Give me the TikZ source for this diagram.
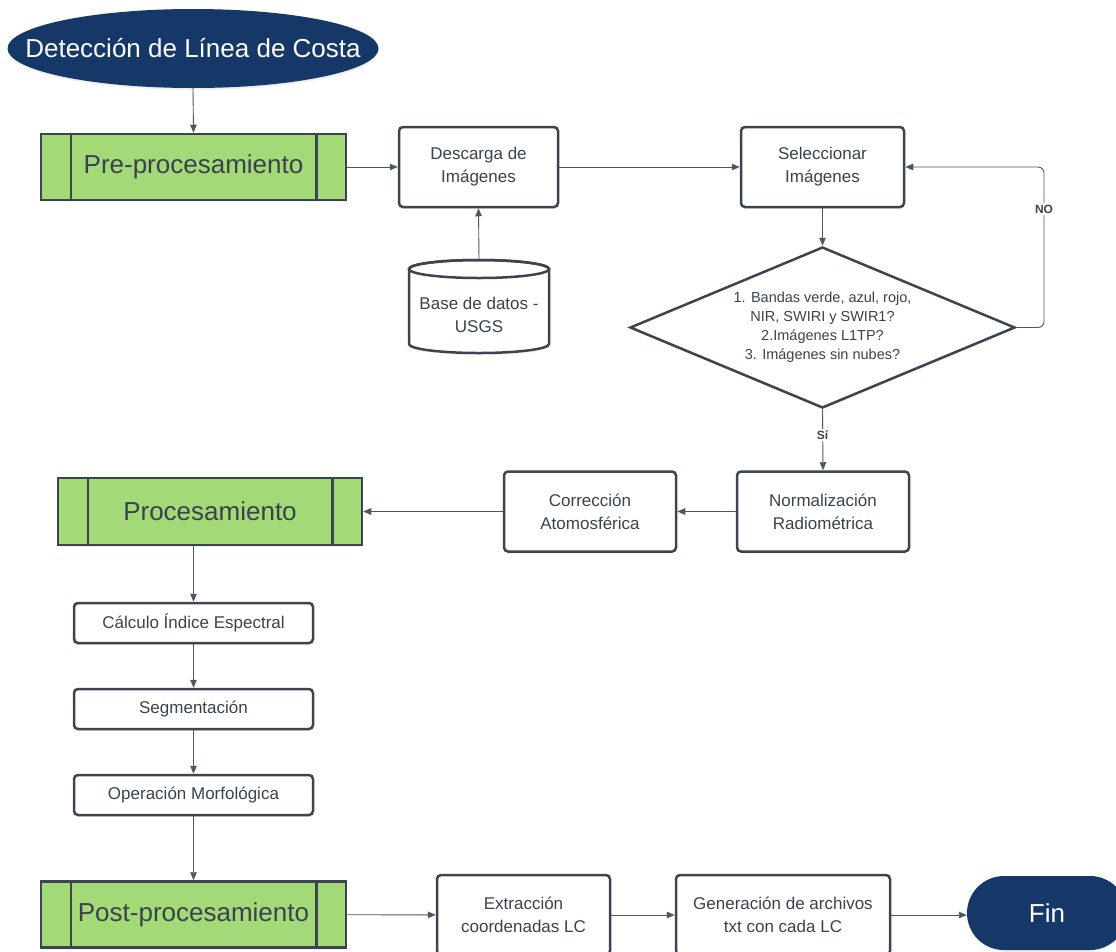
\documentclass[tikz,border=0pt]{standalone}
\usepackage{fontspec}
\setmainfont{Liberation Sans}
\usetikzlibrary{arrows.meta,shapes.geometric,calc,shadows}
\definecolor{navy}{HTML}{163868}
\definecolor{grn}{HTML}{A3D977}
\definecolor{bord}{HTML}{3B4450}
\definecolor{txt}{HTML}{3A4250}
\definecolor{lin}{HTML}{50565E}
\begin{document}
\begin{tikzpicture}[x=1pt,y=-1pt,
  conn/.style={draw=lin, line width=0.9pt, -{Triangle[length=8pt,width=6.5pt]}},
  shad/.style={drop shadow={opacity=0.12, shadow xshift=0.5pt, shadow yshift=-2pt}},
  term/.style={fill=navy, text=white, font=\fontsize{26}{30}\selectfont, inner sep=0pt},
  phase/.style={draw=bord, line width=2.5pt, fill=grn, text=txt, font=\fontsize{26}{30}\selectfont,
    minimum width=305pt, minimum height=66pt, inner sep=0pt, shad},
  box/.style={draw=bord, line width=2.5pt, rounded corners=4pt, fill=white, text=txt,
    font=\fontsize{17}{23}\selectfont, align=center, inner sep=0pt, minimum height=80pt, shad},
  sbox/.style={box, minimum width=239pt, minimum height=40pt},
  dia/.style={draw=bord, line width=2.5pt, fill=white, diamond, aspect=2.39, text=txt,
    font=\fontsize{14.5}{19}\selectfont, align=center, inner sep=0pt,
    minimum width=385pt, minimum height=161pt, shad},
  lab/.style={fill=white, text=txt, font=\bfseries\fontsize{12}{14}\selectfont, inner sep=2pt}
]
\useasboundingbox (0,0) rectangle (1116,951);
\fill[white] (0,0) rectangle (1116,951);

% start terminal (ellipse drawn separately so the text does not widen it)
\fill[navy, shad] (193,48.5) ellipse[x radius=185.5pt, y radius=39.5pt];
\node[text=white, font=\fontsize{26}{30}\selectfont, inner sep=0pt,
  minimum width=371pt, minimum height=79pt] (start) at (193,48.5) {Detección de Línea de Costa};

\node[phase] (pre) at (193.5,167) {Pre-procesamiento};
\node[box, minimum width=159pt] (desc) at (478.5,167) {Descarga de\\Imágenes};
\node[box, minimum width=163pt] (sel) at (822.5,167) {Seleccionar\\Imágenes};

% database cylinder
\draw[draw=bord, line width=2.5pt, fill=white, shad] (409,269) -- (409,344)
  arc[start angle=180, end angle=360, x radius=70pt, y radius=9pt] -- (549,269)
  arc[start angle=0, end angle=180, x radius=70pt, y radius=9pt] -- cycle;
\draw[draw=bord, line width=2.5pt] (479,269) ellipse[x radius=70pt, y radius=9pt];
\node[minimum width=140pt, minimum height=93pt, inner sep=0pt] (db) at (479,306.5) {};
\node[text=txt, font=\fontsize{17}{23}\selectfont, align=center] (dbl) at (479,315) {Base de datos -\\USGS};

\node[dia] (dec) at (822.5,327.5) {1. Bandas verde, azul, rojo,\\NIR, SWIRI y SWIR1?\\2.Imágenes L1TP?\\3. Imágenes sin nubes?};
\node[box, minimum width=172pt] (norm) at (823,511.5) {Normalización\\Radiométrica};
\node[box, minimum width=172pt] (corr) at (590,511.5) {Corrección\\Atomosférica};
\node[phase, minimum width=304pt, minimum height=67pt] (proc) at (210,511.5) {Procesamiento};
\node[sbox] (calc) at (193.5,623) {Cálculo Índice Espectral};
\node[sbox] (seg) at (193.5,709) {Segmentación};
\node[sbox] (morf) at (193.5,795) {Operación Morfológica};
\node[phase] (post) at (193.5,914.5) {Post-procesamiento};
\node[box, minimum width=173pt] (ext) at (523.5,915) {Extracción\\coordenadas LC};
\node[box, minimum width=214pt] (gen) at (783,915) {Generación de archivos\\txt con cada LC};
\node[term, rounded corners=37pt, minimum width=160pt, minimum height=74pt, shad] (fin) at (1047,913) {Fin};

% inner bars of phase boxes
\foreach \p in {pre,proc,post}{
  \draw[bord, line width=2.5pt] ([xshift=31pt]\p.north west) -- ([xshift=31pt]\p.south west);
  \draw[bord, line width=2.5pt] ([xshift=-31pt]\p.north east) -- ([xshift=-31pt]\p.south east);
}

% connectors
\draw[conn] (start.south) -- (pre.north);
\draw[conn] (pre) -- (desc);
\draw[conn] (db.north) -- (desc.south);
\draw[conn] (desc) -- (sel);
\draw[conn] (sel) -- (dec);
\coordinate (noc) at (1044,167);
\draw[conn, rounded corners=6pt] (dec.east) -| (noc) -- (sel.east);
\node[lab] at (1044,209) {NO};
\draw[conn] (dec.south) -- (norm.north);
\node[lab] at (822.5,435) {Sí};
\draw[conn] (norm) -- (corr);
\draw[conn] (corr) -- (proc);
\draw[conn] (proc.south -| calc.north) -- (calc.north);
\draw[conn] (calc) -- (seg);
\draw[conn] (seg) -- (morf);
\draw[conn] (morf) -- (post);
\draw[conn] (post) -- (ext);
\draw[conn] (ext) -- (gen);
\draw[conn] (gen.east) -- (gen.east -| fin.west);
\end{tikzpicture}
\end{document}
